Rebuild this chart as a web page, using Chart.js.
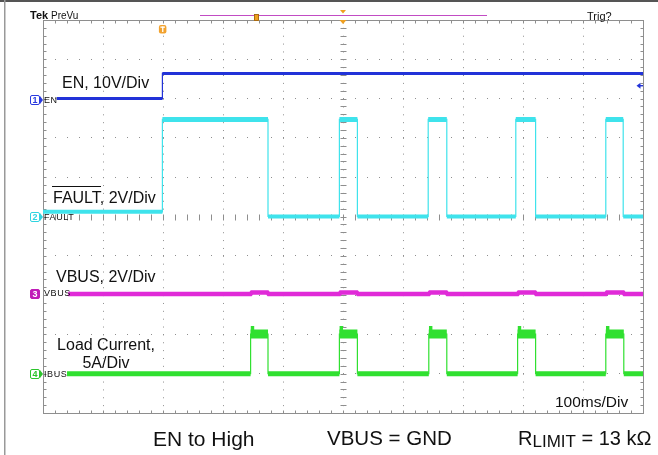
<!DOCTYPE html>
<html>
<head>
<meta charset="utf-8">
<script src="https://cdn.jsdelivr.net/npm/chart.js@4.4.0/dist/chart.umd.min.js"></script>
<style>
html,body{margin:0;padding:0;background:#fff;}
#wrap{position:relative;width:658px;height:455px;overflow:hidden;font-family:"Liberation Sans",Arial,Helvetica,sans-serif;color:#111;}
#scope{position:absolute;left:0;top:0;}
.t{position:absolute;white-space:nowrap;line-height:1;}
.cm{position:absolute;width:8px;height:8px;border:1px solid;border-radius:2px;font-size:9px;line-height:8px;text-align:center;font-weight:bold;}
.cm::after{content:"";position:absolute;left:9px;top:0px;border-top:4px solid transparent;border-bottom:4px solid transparent;border-left:3px solid currentColor;}
.cl{position:absolute;font-size:9px;line-height:1;letter-spacing:0.6px;color:#111;}
</style>
</head>
<body>
<div id="wrap">
<canvas id="scope" width="658" height="455"></canvas>

<div class="t" style="left:30px;top:10px;font-size:11px;font-weight:bold;">Tek</div>
<div class="t" style="left:51px;top:11px;font-size:10px;">PreVu</div>
<div class="t" style="left:587px;top:11px;font-size:11px;">Trig?</div>

<div class="cm" style="left:30px;top:95px;color:#2a3ae0;border-color:#2a3ae0;">1</div>
<div class="cl" style="left:44px;top:95.5px;">EN</div>
<div class="cm" style="left:30px;top:212px;color:#2fd4e0;border-color:#2fd4e0;">2</div>
<div class="cl" style="left:44px;top:212.5px;">FAULT</div>
<div class="cm" style="left:30px;top:288.5px;color:#fff;background:#c01cb8;border-color:#c01cb8;"><span>3</span></div>
<div class="cl" style="left:44px;top:289px;">VBUS</div>
<div class="cm" style="left:30px;top:369px;color:#2cc42c;border-color:#2cc42c;">4</div>
<div class="cl" style="left:44px;top:369.5px;">IBUS</div>

<div class="t" style="left:62px;top:74.5px;font-size:16px;">EN, 10V/Div</div>
<div style="position:absolute;left:52px;top:186px;width:49px;height:1.3px;background:#111;"></div>
<div class="t" style="left:53px;top:189.7px;font-size:16px;">FAULT, 2V/Div</div>
<div class="t" style="left:56px;top:269px;font-size:16px;">VBUS, 2V/Div</div>
<div class="t" style="left:57px;top:336px;width:98px;text-align:center;font-size:16px;line-height:18.3px;">Load Current,<br>5A/Div</div>
<div class="t" style="left:555px;top:394px;font-size:15.5px;">100ms/Div</div>

<div class="t" style="left:153px;top:428px;font-size:21px;">EN to High</div>
<div class="t" style="left:327px;top:428px;font-size:20.5px;">VBUS = GND</div>
<div class="t" style="left:518px;top:428px;font-size:20px;">R<span style="font-size:17px;vertical-align:-2px;">LIMIT</span> = 13 kΩ</div>
</div>

<script>
// ---- axis ranges (time in ms at 100 ms/div, level in screen divisions) ----
const timeRange = [0, 1000];
const levelRange = [-5, 5];
const timeGridStep = 100;
const levelGridStep = 1;

// ---- EN (ch1, 10V/div) ----
const enTimes  = [23, 199, 199, 1000];
const enLevels = [3.0, 3.0, 3.64, 3.64];

// ---- FAULT (ch2, 2V/div) ----
const faultSpan = [0, 1000];
const faultRise = [199, 494, 642, 788, 938];
const faultFall = [375, 524, 673, 821, 967];
const faultLowLevels = [0.12, 0.0, 0.0, 0.0, 0.0, 0.0];
const faultHighLevel = 2.47;

// ---- VBUS (ch3, 2V/div) ----
const vbusSpan = [42, 1000];
const vbusBase = -1.97;
const vbusBump = -1.935;

// ---- IBUS / load current (ch4, 5A/div) ----
const ibusSpan = [40, 1000];
const ibusRise = [346, 494, 643, 791, 938];
const ibusFall = [375, 524, 673, 821, 968];
const ibusLowLevels = [-4.0];
const ibusHighLevel = -2.99;
const ibusPeakLevel = -2.9;

// ---- build step traces from the edge lists ----
function buildSquare(span, rises, falls, lowLevels, highLevel) {
  const path = [], lows = [], highs = [];
  let t = span[0];
  for (let i = 0; i <= rises.length; i++) {
    const lv = lowLevels[Math.min(i, lowLevels.length - 1)];
    const end = i < rises.length ? rises[i] : span[1];
    path.push({x: t, y: lv}, {x: end, y: lv});
    lows.push({x: t, y: lv}, {x: end, y: lv}, {x: end, y: null});
    if (i < rises.length) {
      const r = rises[i], f = falls[i];
      path.push({x: r, y: highLevel}, {x: f, y: highLevel});
      highs.push({x: r, y: highLevel}, {x: f, y: highLevel}, {x: f, y: null});
      t = f;
    }
  }
  return {path, lows, highs};
}
function buildBumps(span, starts, ends, base, bump) {
  const pts = [{x: span[0], y: base}];
  starts.forEach((s, i) => {
    pts.push({x: s, y: base}, {x: s + 2, y: bump}, {x: ends[i] - 1, y: bump}, {x: ends[i] + 1, y: base});
  });
  pts.push({x: span[1], y: base});
  return pts;
}
function buildPeaks(starts, level, len) {
  const pts = [];
  starts.forEach(s => pts.push({x: s + 0.3, y: level}, {x: s + len, y: level}, {x: s + len, y: null}));
  return pts;
}

const enPts = enTimes.map((t, i) => ({x: t, y: enLevels[i]}));
const fault = buildSquare(faultSpan, faultRise, faultFall, faultLowLevels, faultHighLevel);
const ibus = buildSquare(ibusSpan, ibusRise, ibusFall, ibusLowLevels, ibusHighLevel);
const ibusPeaks = buildPeaks(ibusRise, ibusPeakLevel, 6);
const vbusPts = buildBumps(vbusSpan, ibusRise, ibusFall, vbusBase, vbusBump);

const EN_C = '#2233d8', FAULT_C = '#3fe3ec', VBUS_C = '#e02ad8', IBUS_C = '#30e030';

function ds(data, color, width) {
  return {data, borderColor: color, borderWidth: width, pointRadius: 0, fill: false, spanGaps: false, tension: 0};
}

// ---- scope screen decorations (frame, minor ticks, crosshair) ----
const scopeFrame = {
  id: 'scopeFrame',
  beforeDatasetsDraw(chart) {
    const {ctx, chartArea: a, scales: {x, y}} = chart;
    const L = Math.round(a.left) + 0.5, R = Math.round(a.right) + 0.5;
    const T = Math.round(a.top) + 0.5, B = Math.round(a.bottom) + 0.5;
    ctx.save();
    ctx.strokeStyle = '#8e8e8e';
    ctx.lineWidth = 1;
    ctx.strokeRect(L, T, R - L, B - T);
    const xc = Math.round(x.getPixelForValue((timeRange[0] + timeRange[1]) / 2)) + 0.5;
    const yc = Math.round(y.getPixelForValue(0)) + 0.5;
    ctx.beginPath();
    for (let v = timeRange[0]; v <= timeRange[1]; v += timeGridStep / 5) {
      const px = Math.round(x.getPixelForValue(v)) + 0.5;
      ctx.moveTo(px, T); ctx.lineTo(px, T + 3);
      ctx.moveTo(px, B); ctx.lineTo(px, B - 3);
      ctx.moveTo(px, yc - 3); ctx.lineTo(px, yc + 3);
    }
    for (let k = 0; k <= 50; k++) {
      const v = levelRange[0] + k * levelGridStep / 5;
      const py = Math.round(y.getPixelForValue(v)) + 0.5;
      ctx.moveTo(L, py); ctx.lineTo(L + 3, py);
      ctx.moveTo(R, py); ctx.lineTo(R - 3, py);
      ctx.moveTo(xc - 3, py); ctx.lineTo(xc + 3, py);
    }
    ctx.stroke();
    ctx.restore();
  }
};

// ---- scope markers outside the traces ----
const scopeMarks = {
  id: 'scopeMarks',
  afterDraw(chart) {
    const {ctx, scales: {x, y}} = chart;
    ctx.save();
    ctx.fillStyle = '#555'; ctx.fillRect(0, 0, 658, 2);
    ctx.fillStyle = '#999'; ctx.fillRect(4, 0, 1.5, 455);
    ctx.strokeStyle = '#c24cc4'; ctx.lineWidth = 1;
    ctx.beginPath(); ctx.moveTo(200, 15.5); ctx.lineTo(487, 15.5); ctx.stroke();
    ctx.fillStyle = '#f0a020'; ctx.fillRect(254, 14, 5, 7);
    ctx.strokeStyle = '#9a6010'; ctx.lineWidth = 0.8; ctx.strokeRect(254.5, 14.5, 4, 6);
    const xc = x.getPixelForValue(500);
    ctx.fillStyle = '#f0a020';
    ctx.beginPath(); ctx.moveTo(xc - 3, 10); ctx.lineTo(xc + 3, 10); ctx.lineTo(xc, 13.5); ctx.fill();
    ctx.beginPath(); ctx.moveTo(xc - 3.5, 20); ctx.lineTo(xc + 3.5, 20); ctx.lineTo(xc, 24); ctx.fill();
    const xt = x.getPixelForValue(enTimes[1]);
    ctx.fillStyle = '#f2a22e';
    ctx.beginPath(); ctx.roundRect ? ctx.roundRect(xt - 3.5, 25, 7.5, 8.5, 2) : ctx.rect(xt - 3.5, 25, 7.5, 8.5); ctx.fill();
    ctx.fillStyle = '#fff';
    ctx.fillRect(xt - 2, 26.5, 4.5, 1.3);
    ctx.fillRect(xt - 0.3, 26.5, 1.3, 5.5);
    const ya = y.getPixelForValue(3.33);
    ctx.fillStyle = EN_C;
    ctx.beginPath(); ctx.moveTo(636.5, ya); ctx.lineTo(640.5, ya - 3); ctx.lineTo(640.5, ya + 3); ctx.fill();
    ctx.fillRect(640, ya - 0.6, 3, 1.4);
    ctx.restore();
  }
};

new Chart(document.getElementById('scope'), {
  type: 'line',
  data: {
    datasets: [
      ds(enPts, EN_C, 1.2),
      ds(enPts.slice(0, 2), EN_C, 3),
      ds(enPts.slice(2), EN_C, 3),
      ds(fault.path, FAULT_C, 1.2),
      ds(fault.lows, FAULT_C, 4),
      ds(fault.highs, FAULT_C, 5),
      ds(vbusPts, VBUS_C, 4.5),
      ds(ibus.path, IBUS_C, 1.2),
      ds(ibus.lows, IBUS_C, 5),
      ds(ibus.highs, IBUS_C, 9),
      ds(ibusPeaks, IBUS_C, 9)
    ]
  },
  options: {
    responsive: false,
    animation: false,
    events: [],
    layout: {padding: {left: 43, top: 20, right: 15, bottom: 42}},
    plugins: {legend: {display: false}, tooltip: {enabled: false}, title: {display: false}},
    elements: {point: {radius: 0}, line: {tension: 0, borderCapStyle: 'butt', borderJoinStyle: 'miter'}},
    scales: {
      x: {
        type: 'linear', min: timeRange[0], max: timeRange[1],
        ticks: {display: false, stepSize: timeGridStep},
        grid: {color: '#8f8f8f', lineWidth: 1, drawTicks: false},
        border: {display: false, dash: [1, 6.86]}
      },
      y: {
        type: 'linear', min: levelRange[0], max: levelRange[1],
        ticks: {display: false, stepSize: levelGridStep},
        grid: {color: '#8f8f8f', lineWidth: 1, drawTicks: false},
        border: {display: false, dash: [1, 11]}
      }
    }
  },
  plugins: [scopeFrame, scopeMarks]
});
</script>
</body>
</html>
